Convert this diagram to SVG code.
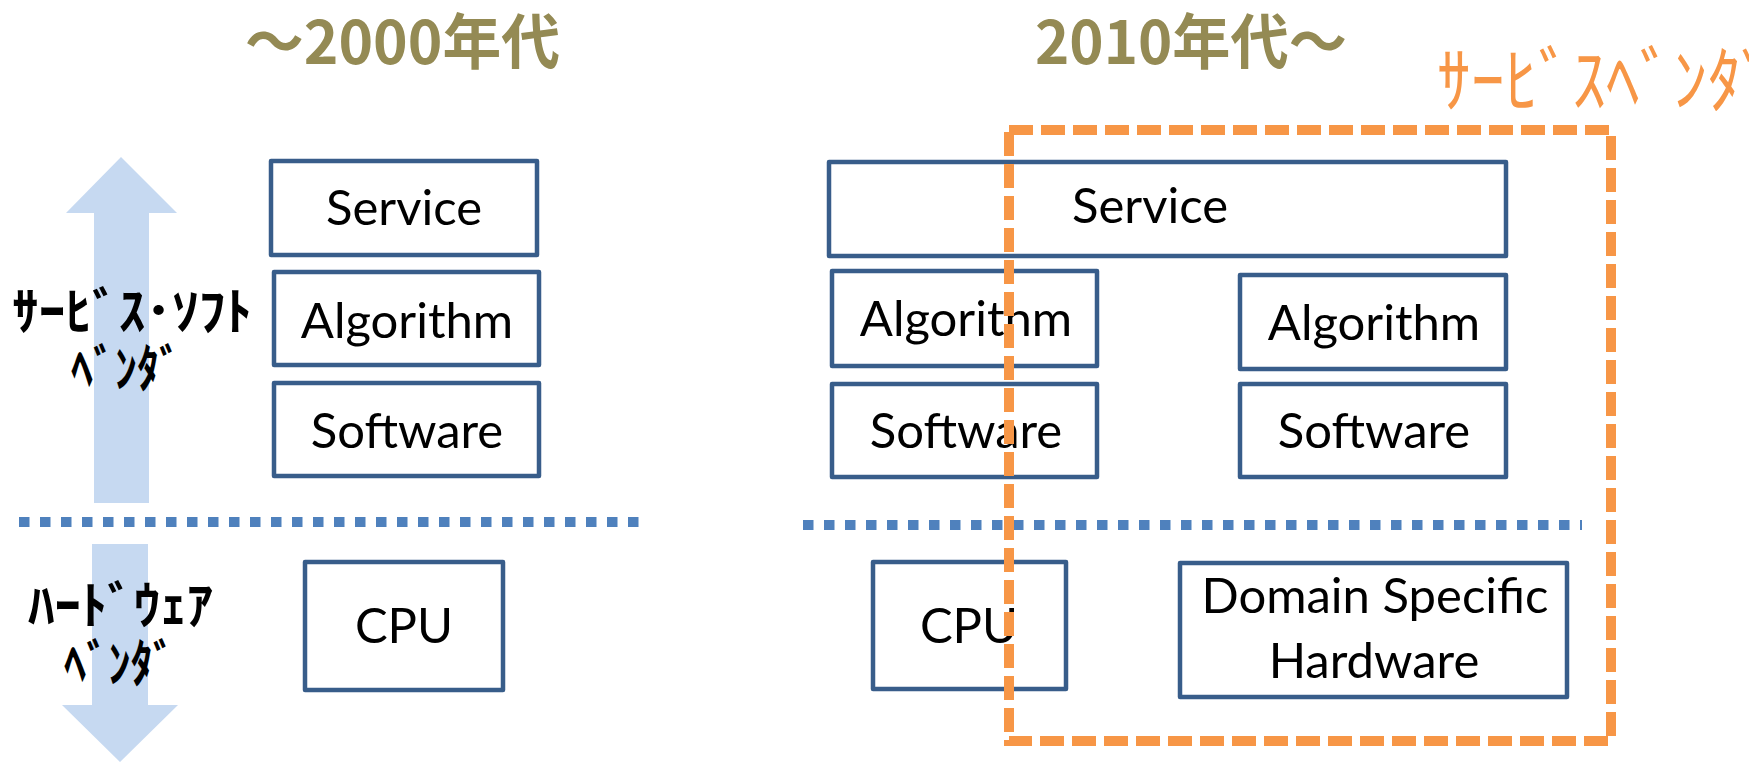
<svg xmlns="http://www.w3.org/2000/svg" width="1749" height="765" viewBox="0 0 1749 765">
<style>
.bg{fill:#ffffff}
.box{fill:#ffffff;stroke:#385D8A;stroke-width:4.5;stroke-linejoin:round}
.lbl{font-family:Lato,"Liberation Sans",sans-serif;font-size:49px;fill:#000000;text-anchor:middle}
.title{font-family:"Noto Sans CJK JP",sans-serif;font-size:60px;font-weight:bold;fill:#948A54}
.jp{font-family:"Noto Sans CJK JP",sans-serif;font-size:51px;font-weight:bold;fill:#000000}
.vendor{font-family:"Noto Sans CJK JP",sans-serif;font-size:72px;fill:#F79646}
.arrow{fill:#C6D9F1}
.dots{stroke:#4F81BD;stroke-width:10;stroke-dasharray:10.5 10.5;fill:none}
.dash{stroke:#F79646;stroke-width:10;stroke-dasharray:24 8;fill:none}
</style>
<rect class="bg" x="0" y="0" width="1749" height="765"/>

<g id="titles">
<text class="title" x="245" y="64" textLength="315" lengthAdjust="spacingAndGlyphs">～2000年代</text>
<text class="title" x="1035" y="64" textLength="312" lengthAdjust="spacingAndGlyphs">2010年代～</text>
</g>

<g id="arrow-up">
<polygon class="arrow" points="121,157 177,213 149,213 149,503 94,503 94,213 66,213"/>
</g>
<g id="arrow-down">
<polygon class="arrow" points="92,544 148,544 148,705 178,705 120,762 62,705 92,705"/>
</g>

<g id="label-soft-vendor">
<text class="jp" x="12" y="330" textLength="240" lengthAdjust="spacingAndGlyphs">ｻｰﾋﾞｽ･ｿﾌﾄ</text>
<text class="jp" x="71" y="387" textLength="110" lengthAdjust="spacingAndGlyphs">ﾍﾞﾝﾀﾞ</text>
</g>
<g id="label-hw-vendor">
<text class="jp" x="28" y="624" textLength="185" lengthAdjust="spacingAndGlyphs">ﾊｰﾄﾞｳｪｱ</text>
<text class="jp" x="64" y="682" textLength="111" lengthAdjust="spacingAndGlyphs">ﾍﾞﾝﾀﾞ</text>
</g>

<g id="connectors">
<line class="dots" x1="19" y1="522" x2="646" y2="522"/>
<line class="dots" x1="803" y1="525" x2="1582" y2="525"/>
</g>

<g id="l-service"><rect class="box" x="271" y="161" width="266" height="94"/><text class="lbl" x="404" y="225">Service</text></g>
<g id="l-algorithm"><rect class="box" x="274" y="272" width="265" height="93"/><text class="lbl" x="407" y="338">Algorithm</text></g>
<g id="l-software"><rect class="box" x="274" y="383" width="265" height="93"/><text class="lbl" x="407" y="448">Software</text></g>
<g id="l-cpu"><rect class="box" x="305" y="562" width="198" height="128"/><text class="lbl" x="404" y="643">CPU</text></g>

<g id="r-service"><rect class="box" x="829" y="162" width="677" height="94"/><text class="lbl" x="1150" y="223">Service</text></g>
<g id="r-algorithm1"><rect class="box" x="832" y="271" width="265" height="95"/><text class="lbl" x="966" y="336">Algorithm</text></g>
<g id="r-software1"><rect class="box" x="832" y="384" width="265" height="93"/><text class="lbl" x="966" y="448">Software</text></g>
<g id="r-algorithm2"><rect class="box" x="1240" y="275" width="266" height="94"/><text class="lbl" x="1374" y="340">Algorithm</text></g>
<g id="r-software2"><rect class="box" x="1240" y="384" width="266" height="93"/><text class="lbl" x="1374" y="448">Software</text></g>
<g id="r-cpu"><rect class="box" x="873" y="562" width="193" height="127"/><text class="lbl" x="969" y="643">CPU</text></g>
<g id="r-dsh"><rect class="box" x="1180" y="563" width="387" height="134"/><text class="lbl" x="1375" y="613">Domain Specific</text><text class="lbl" x="1374" y="678">Hardware</text></g>

<g id="service-vendor">
<rect class="dash" x="1009" y="130" width="602" height="611"/>
<text class="vendor" x="1437" y="106" textLength="338" lengthAdjust="spacingAndGlyphs">ｻｰﾋﾞｽﾍﾞﾝﾀﾞ</text>
</g>
</svg>
